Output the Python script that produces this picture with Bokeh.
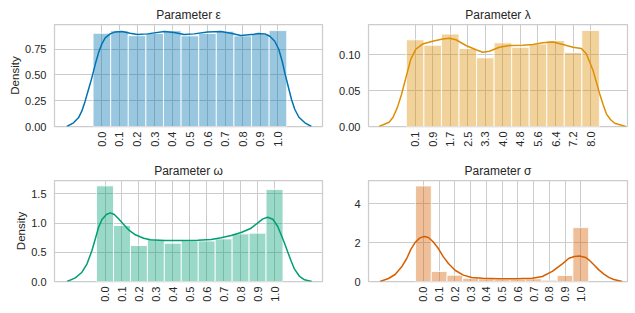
import math
from bokeh.plotting import figure
from bokeh.models import Range1d, FixedTicker, CustomJSTickFormatter
from bokeh.layouts import column, row
from bokeh.embed import file_html
from bokeh.resources import INLINE

# ---------------- data ----------------
# Parameter epsilon
eps_centers = [0.0, 0.1, 0.2, 0.3, 0.4, 0.5, 0.6, 0.7, 0.8, 0.9, 1.0]
eps_labels = ["0.0", "0.1", "0.2", "0.3", "0.4", "0.5", "0.6", "0.7", "0.8", "0.9", "1.0"]
eps_density = [0.905, 0.930, 0.882, 0.903, 0.930, 0.880, 0.903, 0.925, 0.880, 0.902, 0.931]
eps_kde_x = [-0.199, -0.161, -0.133, -0.114, -0.095, -0.076, -0.057, -0.038, -0.019, 0.0,
             0.019, 0.047, 0.076, 0.114, 0.160, 0.202, 0.259, 0.354, 0.411, 0.467, 0.524,
             0.600, 0.676, 0.733, 0.789, 0.865, 0.888, 0.926, 0.954, 0.982, 1.005, 1.024,
             1.039, 1.058, 1.077, 1.096, 1.119, 1.153, 1.190]
eps_kde_y = [0.0, 0.036, 0.084, 0.149, 0.246, 0.359, 0.472, 0.601, 0.715, 0.802,
             0.860, 0.899, 0.918, 0.922, 0.905, 0.892, 0.899, 0.921, 0.912, 0.892, 0.899,
             0.918, 0.921, 0.905, 0.883, 0.895, 0.902, 0.899, 0.876, 0.827, 0.747, 0.633,
             0.521, 0.391, 0.262, 0.165, 0.090, 0.036, 0.0]
eps_yticks = [0.0, 0.25, 0.5, 0.75]
eps_ylabels = ["0.00", "0.25", "0.50", "0.75"]

# Parameter lambda
lam_centers = [0.1, 0.89, 1.68, 2.47, 3.26, 4.05, 4.84, 5.63, 6.42, 7.21, 8.0]
lam_labels = ["0.1", "0.9", "1.7", "2.5", "3.3", "4.0", "4.8", "5.6", "6.4", "7.2", "8.0"]
lam_density = [0.121, 0.1134, 0.129, 0.1088, 0.0958, 0.1167, 0.1106, 0.115, 0.120, 0.1032, 0.1339]
lam_kde_x = [-1.525, -1.074, -0.893, -0.695, -0.514, -0.351, -0.094, 0.132, 0.434, 0.886,
             1.337, 1.635, 1.937, 2.389, 2.840, 3.143, 3.441, 3.892, 4.344, 4.949, 5.400,
             5.852, 6.303, 6.755, 7.206, 7.581, 7.807, 8.109, 8.258, 8.407, 8.560, 8.709,
             8.890, 9.084, 9.581]
lam_kde_y = [0.0, 0.006, 0.013, 0.027, 0.0446, 0.064, 0.094, 0.108, 0.115, 0.119,
             0.122, 0.123, 0.121, 0.113, 0.107, 0.1037, 0.105, 0.1106, 0.113, 0.1134, 0.1144,
             0.1167, 0.118, 0.1144, 0.1106, 0.1088, 0.1014, 0.078, 0.062, 0.0456, 0.0307, 0.0177,
             0.0098, 0.0046, 0.0]
lam_yticks = [0.0, 0.05, 0.10]
lam_ylabels = ["0.00", "0.05", "0.10"]

# Parameter omega
om_centers = [0.0, 0.1, 0.2, 0.3, 0.4, 0.5, 0.6, 0.7, 0.8, 0.9, 1.0]
om_labels = ["0.0", "0.1", "0.2", "0.3", "0.4", "0.5", "0.6", "0.7", "0.8", "0.9", "1.0"]
om_density = [1.638, 0.959, 0.616, 0.719, 0.656, 0.700, 0.695, 0.730, 0.816, 0.828, 1.575]
om_kde_x = [-0.224, -0.175, -0.136, -0.106, -0.077, -0.057, -0.038, -0.018, 0.008, 0.031,
            0.055, 0.080, 0.110, 0.139, 0.179, 0.228, 0.268, 0.350, 0.449, 0.547, 0.626,
            0.685, 0.744, 0.803, 0.862, 0.911, 0.931, 0.960, 0.990, 1.019, 1.039, 1.059,
            1.079, 1.099, 1.118, 1.148, 1.177, 1.220]
om_kde_y = [0.0, 0.063, 0.159, 0.303, 0.531, 0.731, 0.930, 1.062, 1.147, 1.176,
            1.147, 1.074, 0.976, 0.885, 0.800, 0.742, 0.714, 0.702, 0.702, 0.708, 0.719,
            0.748, 0.788, 0.839, 0.913, 1.027, 1.073, 1.101, 1.067, 0.942, 0.800, 0.656,
            0.497, 0.342, 0.211, 0.086, 0.029, 0.0]
om_yticks = [0.0, 0.5, 1.0, 1.5]
om_ylabels = ["0.0", "0.5", "1.0", "1.5"]

# Parameter sigma
sig_centers = [0.0, 0.1, 0.2, 0.3, 0.4, 0.5, 0.6, 0.7, 0.8, 0.9, 1.0]
sig_labels = ["0.0", "0.1", "0.2", "0.3", "0.4", "0.5", "0.6", "0.7", "0.8", "0.9", "1.0"]
sig_density = [4.93, 0.515, 0.325, 0.17, 0.14, 0.12, 0.12, 0.14, 0.07, 0.31, 2.78]
sig_kde_x = [-0.276, -0.222, -0.180, -0.138, -0.106, -0.079, -0.053, -0.022, 0.006, 0.032,
             0.063, 0.095, 0.127, 0.159, 0.201, 0.254, 0.307, 0.375, 0.480, 0.586, 0.692,
             0.756, 0.819, 0.883, 0.925, 0.960, 0.992, 1.031, 1.051, 1.083, 1.115, 1.147,
             1.178, 1.210, 1.263]
sig_kde_y = [0.0, 0.155, 0.361, 0.756, 1.186, 1.667, 2.01, 2.25, 2.32, 2.27,
             2.04, 1.70, 1.27, 0.93, 0.58, 0.33, 0.21, 0.17, 0.145, 0.14, 0.17,
             0.26, 0.52, 0.91, 1.20, 1.29, 1.32, 1.24, 1.12, 0.86, 0.60, 0.38,
             0.21, 0.10, 0.0]
sig_yticks = [0, 2, 4]
sig_ylabels = ["0", "2", "4"]

FONT = "Liberation Sans"
TXT = "#262626"
GRIDC = "#cccccc"


def panel(title, centers, width, labels, dens, kx, ky, yticks, ylabels, color,
          xr, yr, w, h, bl, br, bt, bb, ylabel=None):
    p = figure(width=w, height=h, output_backend="svg", toolbar_location=None,
               x_range=Range1d(*xr), y_range=Range1d(*yr),
               min_border_left=bl, min_border_right=br,
               min_border_top=bt, min_border_bottom=bb)
    p.title.text = title
    p.title.align = "center"
    p.title.text_font = FONT
    p.title.text_font_size = "12px"
    p.title.text_font_style = "normal"
    p.title.text_color = TXT
    p.title.standoff = 5
    p.title.offset = 0

    p.vbar(x=centers, width=width, top=dens, bottom=0, fill_color=color,
           fill_alpha=0.4, line_color="white", line_alpha=0.85, line_width=1)
    p.line(kx, ky, line_color=color, line_width=1.5, line_join="round")

    p.xaxis.ticker = FixedTicker(ticks=centers)
    p.xaxis.formatter = CustomJSTickFormatter(args=dict(labels=labels),
                                              code="return labels[index];")
    p.yaxis.ticker = FixedTicker(ticks=yticks)
    p.yaxis.formatter = CustomJSTickFormatter(args=dict(labels=ylabels),
                                              code="return labels[index];")
    p.xaxis.major_label_orientation = math.pi / 2
    for ax in (p.xaxis[0], p.yaxis[0]):
        ax.axis_line_color = None
        ax.major_tick_line_color = None
        ax.minor_tick_line_color = None
        ax.major_tick_in = 0
        ax.major_tick_out = 0
        ax.minor_tick_in = 0
        ax.minor_tick_out = 0
        ax.major_label_text_font = FONT
        ax.major_label_text_font_size = "11px"
        ax.major_label_text_color = TXT
    p.xaxis.major_label_standoff = 5
    p.yaxis.major_label_standoff = 8
    if ylabel:
        p.yaxis.axis_label = ylabel
        p.yaxis.axis_label_text_font = FONT
        p.yaxis.axis_label_text_font_size = "11.5px"
        p.yaxis.axis_label_text_font_style = "normal"
        p.yaxis.axis_label_text_color = TXT
        p.yaxis.axis_label_standoff = 1
    p.xgrid.grid_line_color = GRIDC
    p.ygrid.grid_line_color = GRIDC
    p.xgrid.grid_line_width = 1
    p.ygrid.grid_line_width = 1
    p.outline_line_color = GRIDC
    p.outline_line_width = 1.25
    p.outline_line_alpha = 1
    p.background_fill_color = "white"
    p.border_fill_color = "white"
    return p


p1 = panel("Parameter ε", eps_centers, 0.1, eps_labels, eps_density, eps_kde_x, eps_kde_y,
           eps_yticks, eps_ylabels, "#0173b2", (-0.269, 1.253), (0, 0.99),
           330, 156, 54, 8, 24, 30, "Density")
p2 = panel("Parameter λ", lam_centers, 0.79, lam_labels, lam_density, lam_kde_x, lam_kde_y,
           lam_yticks, lam_ylabels, "#de8f05", (-2.0, 9.66), (0, 0.1423),
           305, 156, 38, 8, 24, 30)
p3 = panel("Parameter ω", om_centers, 0.1, om_labels, om_density, om_kde_x, om_kde_y,
           om_yticks, om_ylabels, "#029e73", (-0.298, 1.283), (0, 1.73),
           330, 149, 54, 8, 24, 24, "Density")
p4 = panel("Parameter σ", sig_centers, 0.1, sig_labels, sig_density, sig_kde_x, sig_kde_y,
           sig_yticks, sig_ylabels, "#d55e00", (-0.349, 1.297), (0, 5.21),
           305, 149, 38, 8, 24, 24)

layout = column(row(p1, p2), row(p3, p4))
open("out.html", "w").write(file_html(layout, INLINE))
